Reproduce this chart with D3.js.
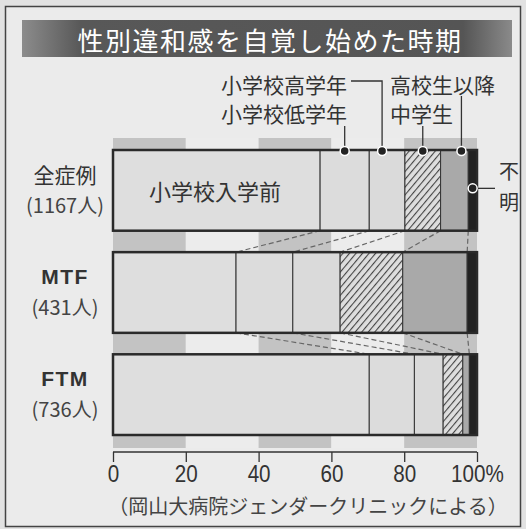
<!DOCTYPE html>
<html>
<head>
<meta charset="utf-8">
<script src="https://cdn.jsdelivr.net/npm/d3@7"></script>
<style>
  body { margin: 0; background: #e2e2e2; }
  svg text { font-family: "Noto Sans CJK JP", "Liberation Sans", sans-serif; fill: #333; }
</style>
</head>
<body>
<div id="chart"></div>
<script>
// data (percent of each group)
var groups = ["全症例", "MTF", "FTM"];
var groupCounts = ["(1167人)", "(431人)", "(736人)"];
var periods = ["小学校入学前", "小学校低学年", "小学校高学年", "中学生", "高校生以降", "不明"];
var allCases = [56.9, 13.5, 9.8, 9.8, 7.6, 2.4];
var mtfValues = [33.8, 15.6, 13.0, 17.2, 17.7, 2.7];
var ftmValues = [70.4, 12.4, 7.9, 5.4, 1.8, 2.1];
var xTicks = [0, 20, 40, 60, 80, 100];

var W = 526, H = 529;
var svg = d3.select("#chart").append("svg")
    .attr("width", W)
    .attr("height", H);

var defs = svg.append("defs");
var grad = defs.append("linearGradient").attr("id", "titleGrad");
grad.append("stop").attr("offset", "0%").attr("stop-color", "#8c8c8c");
grad.append("stop").attr("offset", "12%").attr("stop-color", "#585858");
grad.append("stop").attr("offset", "90%").attr("stop-color", "#555");
grad.append("stop").attr("offset", "100%").attr("stop-color", "#8a8a8a");

var hatch = defs.append("pattern")
    .attr("id", "hatch")
    .attr("patternUnits", "userSpaceOnUse")
    .attr("width", 5)
    .attr("height", 5)
    .attr("patternTransform", "rotate(40)");
hatch.append("rect").attr("width", 5).attr("height", 5).attr("fill", "#dedede");
hatch.append("line").attr("x1", 0).attr("y1", 0).attr("x2", 0).attr("y2", 5)
    .attr("stroke", "#444").attr("stroke-width", 2.2);

// frame
svg.append("rect")
    .attr("x", 5.5).attr("y", 6.5)
    .attr("width", 515).attr("height", 520)
    .attr("fill", "#ebebeb")
    .attr("stroke", "#444")
    .attr("stroke-width", 1.5);

// title
svg.append("rect")
    .attr("x", 22).attr("y", 20)
    .attr("width", 490).attr("height", 37)
    .attr("fill", "url(#titleGrad)");
svg.append("text")
    .attr("x", 270).attr("y", 39)
    .attr("text-anchor", "middle")
    .attr("dominant-baseline", "central")
    .style("font-size", "26px")
    .style("letter-spacing", "1.5px")
    .style("fill", "#fff")
    .text("性別違和感を自覚し始めた時期");

var x = d3.scaleLinear().domain([0, 100]).range([113, 477]);
var y = d3.scaleBand().domain(groups).range([150, 435]).paddingInner(0.21);

// background column bands
var bandTop = 138, bandBottom = 448;
var bandStarts = xTicks.slice(0, -1);
svg.append("g").selectAll("rect")
    .data(bandStarts)
    .enter()
    .append("rect")
    .attr("x", function (d) { return x(d); })
    .attr("y", bandTop)
    .attr("width", function (d) { return x(d + 20) - x(d); })
    .attr("height", bandBottom - bandTop)
    .attr("fill", function (d, i) { return i % 2 == 0 ? "#c3c3c3" : "#ececec"; });

var series = [allCases, mtfValues, ftmValues];
var fills = ["#dedede", "#dcdcdc", "#dadada", "url(#hatch)", "#a9a9a9", "#222"];

// stack into start/end
var stacked = series.map(function (vals, gi) {
    var acc = 0;
    return vals.map(function (v, pi) {
        var s = acc;
        acc += v;
        return {group: groups[gi], period: pi, x0: s, x1: acc};
    });
});

// dashed connectors between bars
var conn = svg.append("g");
for (var gi = 0; gi < groups.length - 1; gi++) {
    for (var pi = 0; pi < periods.length - 1; pi++) {
        conn.append("line")
            .attr("x1", x(stacked[gi][pi].x1))
            .attr("y1", y(groups[gi]) + y.bandwidth())
            .attr("x2", x(stacked[gi + 1][pi].x1))
            .attr("y2", y(groups[gi + 1]))
            .attr("stroke", "#666")
            .attr("stroke-width", 1.2)
            .attr("stroke-dasharray", "5,3");
    }
}

// bars
var barG = svg.append("g");
stacked.forEach(function (segs) {
    barG.append("g").selectAll("rect")
        .data(segs)
        .enter()
        .append("rect")
        .attr("x", function (d) { return x(d.x0); })
        .attr("y", function (d) { return y(d.group); })
        .attr("width", function (d) { return x(d.x1) - x(d.x0); })
        .attr("height", y.bandwidth())
        .attr("fill", function (d) { return fills[d.period]; })
        .attr("stroke", "#333")
        .attr("stroke-width", 1);
    barG.append("rect")
        .attr("x", x(0))
        .attr("y", y(segs[0].group))
        .attr("width", x(100) - x(0))
        .attr("height", y.bandwidth())
        .attr("fill", "none")
        .attr("stroke", "#2a2a2a")
        .attr("stroke-width", 2.5);
});

// group labels
var lab = svg.append("g");
groups.forEach(function (g, i) {
    var cy = y(g) + y.bandwidth() / 2;
    lab.append("text")
        .attr("x", 65).attr("y", cy - 16)
        .attr("text-anchor", "middle")
        .attr("dominant-baseline", "central")
        .style("font-size", "21px")
        .style("font-weight", i == 0 ? 400 : 700)
        .style("font-family", i == 0 ? null : "'Liberation Sans', sans-serif")
        .style("letter-spacing", i == 0 ? "0px" : "1.5px")
        .text(g);
    lab.append("text")
        .attr("x", 65).attr("y", cy + 14)
        .attr("text-anchor", "middle")
        .attr("dominant-baseline", "central")
        .style("font-size", "20px")
        .style("fill", "#444")
        .text(groupCounts[i]);
});

// label inside first bar
svg.append("text")
    .attr("x", 215)
    .attr("y", y(groups[0]) + y.bandwidth() / 2)
    .attr("text-anchor", "middle")
    .attr("dominant-baseline", "central")
    .style("font-size", "22px")
    .text(periods[0]);

// leader labels above first bar
var top0 = y(groups[0]) + 1;
var segs0 = stacked[0];
function mid(d) { return x((d.x0 + d.x1) / 2); }
var lead = svg.append("g").attr("stroke", "#333").attr("stroke-width", 1.3).attr("fill", "none");
var dots = [];

// 小学校低学年
var xLow = mid(segs0[1]);
lead.append("line").attr("x1", xLow).attr("y1", 126).attr("x2", xLow).attr("y2", top0);
dots.push([xLow, top0]);
// 小学校高学年
var xHigh = mid(segs0[2]) - 5;
lead.append("polyline").attr("points", "351,81 " + xHigh + ",81 " + xHigh + "," + top0);
dots.push([xHigh, top0]);
// 中学生
var xMid = mid(segs0[3]);
lead.append("line").attr("x1", xMid).attr("y1", 126).attr("x2", xMid).attr("y2", top0);
dots.push([xMid, top0]);
// 高校生以降
var xHs = mid(segs0[4]) + 7;
lead.append("line").attr("x1", xHs).attr("y1", 96).attr("x2", xHs).attr("y2", top0);
dots.push([xHs, top0]);
// 不明
var xUnk = mid(segs0[5]);
var yUnk = y(groups[0]) + y.bandwidth() / 2 - 2;
lead.append("line").attr("x1", xUnk).attr("y1", yUnk).attr("x2", 495).attr("y2", yUnk);
dots.push([xUnk, yUnk]);

svg.append("g").selectAll("circle")
    .data(dots)
    .enter()
    .append("circle")
    .attr("cx", function (d) { return d[0]; })
    .attr("cy", function (d) { return d[1]; })
    .attr("r", 4.5)
    .attr("fill", "#222")
    .attr("stroke", "#fff")
    .attr("stroke-width", 1.5);

var topLabels = svg.append("g").style("font-size", "21px");
topLabels.append("text").attr("x", 347).attr("y", 84).attr("text-anchor", "end")
    .attr("dominant-baseline", "central").text(periods[2]);
topLabels.append("text").attr("x", 347).attr("y", 113).attr("text-anchor", "end")
    .attr("dominant-baseline", "central").text(periods[1]);
topLabels.append("text").attr("x", 390).attr("y", 84)
    .attr("dominant-baseline", "central").text(periods[4]);
topLabels.append("text").attr("x", 390).attr("y", 113)
    .attr("dominant-baseline", "central").text(periods[3]);
topLabels.append("text").attr("x", 509).attr("y", 170).attr("text-anchor", "middle")
    .attr("dominant-baseline", "central").style("font-size", "20px").text(periods[5][0]);
topLabels.append("text").attr("x", 509).attr("y", 201).attr("text-anchor", "middle")
    .attr("dominant-baseline", "central").style("font-size", "20px").text(periods[5][1]);

// axis
var xAxis = d3.axisBottom(x)
    .tickValues(xTicks)
    .tickSize(10)
    .tickFormat(function (d) { return d == 100 ? "100%" : d; });

var ax = svg.append("g")
    .attr("transform", "translate(0,452)")
    .call(xAxis);
ax.select(".domain").attr("stroke", "#333").attr("stroke-width", 1.3)
    .attr("d", "M" + x(0) + ",0H" + x(100));
ax.selectAll(".tick line").attr("stroke", "#333").attr("stroke-width", 1.3);
ax.selectAll(".tick text")
    .attr("y", 22)
    .attr("dy", "0.35em")
    .attr("transform", "scale(0.86,1)")
    .style("font-family", "'Liberation Sans', sans-serif")
    .style("font-size", "24px")
    .style("fill", "#333");

svg.append("text")
    .attr("x", 308).attr("y", 505)
    .attr("text-anchor", "middle")
    .attr("dominant-baseline", "central")
    .style("font-size", "20px")
    .style("fill", "#444")
    .text("（岡山大病院ジェンダークリニックによる）");
</script>
</body>
</html>
